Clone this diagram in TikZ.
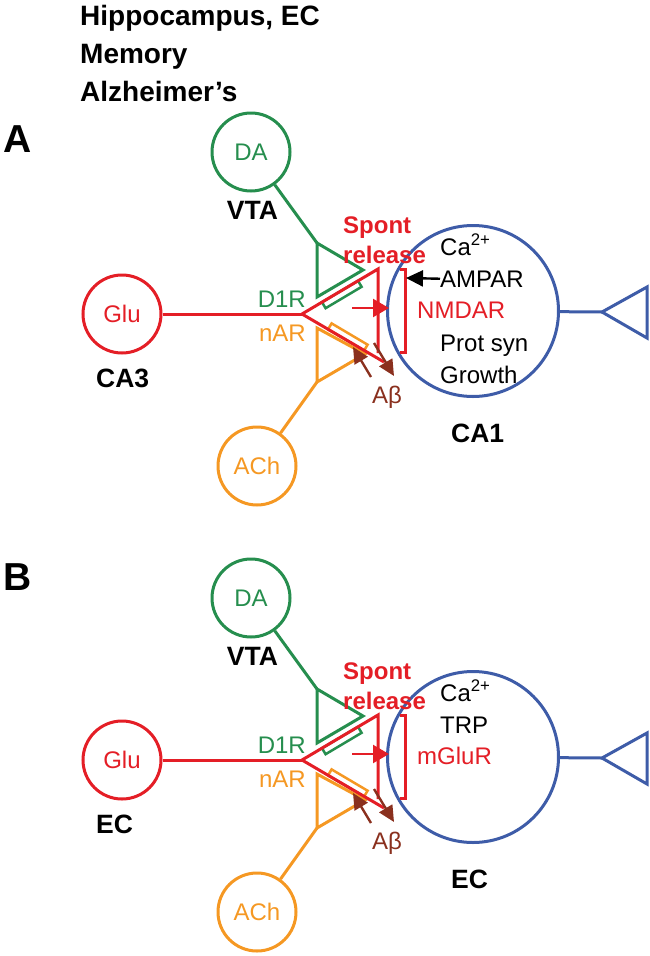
\documentclass[tikz,border=0pt]{standalone}
\usepackage{fontspec}
\setmainfont{Liberation Sans}
\usetikzlibrary{arrows.meta}
\definecolor{glured}{RGB}{228,30,38}
\definecolor{dagreen}{RGB}{38,142,78}
\definecolor{achorange}{RGB}{245,152,35}
\definecolor{cellblue}{RGB}{62,92,168}
\definecolor{abbrown}{RGB}{138,48,30}
\tikzset{cell/.style={circle,draw=#1,text=#1,line width=3pt,minimum size=78pt,inner sep=0pt,font=\fontsize{24}{28}\selectfont}}
\tikzset{lbl/.style={inner sep=0pt,text=#1,font=\fontsize{24}{28}\selectfont},lbl/.default=black}
\tikzset{bold/.style={inner sep=0pt,text=#1,font=\fontsize{26.5}{30}\selectfont\bfseries},bold/.default=black}
\tikzset{wire/.style={line width=3pt,#1}}
\tikzset{abarrow/.style={-{Triangle[length=16pt,width=15pt]},line width=2.4pt,abbrown}}

\begin{document}
\begin{tikzpicture}[x=1pt,y=-1pt]
	\useasboundingbox (0,0) rectangle (650,956);
	\node[bold,font=\fontsize{28}{32}\selectfont\bfseries,anchor=base west] (head1) at (80,25) {Hippocampus, EC};
	\node[bold,font=\fontsize{28}{32}\selectfont\bfseries,anchor=base west] (head2) at (80,63) {Memory};
	\node[bold,font=\fontsize{28}{32}\selectfont\bfseries,anchor=base west] (head3) at (80,101) {Alzheimer’s};
	\node[bold,font=\fontsize{39}{42}\selectfont\bfseries,anchor=base west] (panela) at (3,152) {A};
	\node[bold,font=\fontsize{39}{42}\selectfont\bfseries,anchor=base west] (panelb) at (3,590) {B};
	\foreach \p/\dy/\src/\dst/\rb/\rc in {a/0/CA3/CA1/AMPAR/NMDAR,b/446/EC/EC/TRP/mGluR}{
	\begin{scope}[shift={(0,\dy)}]
		\node[cell=dagreen] (da\p) at (251,152) {DA};
		\node[bold,anchor=base] (vta\p) at (252.5,219) {VTA};
		\node[cell=glured] (glu\p) at (122,314) {Glu};
		\node[bold,anchor=base west] (src\p) at (96,387) {\src};
		\node[cell=achorange] (ach\p) at (257,466) {ACh};
		\node[cell=cellblue,minimum size=171pt] (post\p) at (473,311) {};
		\node[bold,anchor=base west] (dst\p) at (451,442) {\dst};
		\coordinate (tip\p) at (302,314);
		\coordinate (rtop\p) at (378,269);
		\coordinate (rbot\p) at (378,353);
		\coordinate (rend\p) at (384,362);
		\coordinate (gtop\p) at (317,243);
		\coordinate (gbot\p) at (317,297);
		\coordinate (gtip\p) at (363,270);
		\coordinate (otop\p) at (317,328);
		\coordinate (obot\p) at (317,382);
		\coordinate (otip\p) at (365,354);
		\coordinate (btip\p) at (602,312);
		\coordinate (bup\p) at (647,287);
		\coordinate (bdn\p) at (647,338);
		\coordinate (rel\p) at (352,308);
		\coordinate (relt\p) at (389,308);
		\coordinate (abo\p) at (374,343);
		\coordinate (abot\p) at (394,376);
		\coordinate (abi\p) at (371,377);
		\coordinate (abit\p) at (353,347);
		\draw[wire=dagreen] (da\p) -- (gtop\p);
		\draw[wire=dagreen] (gtop\p) -- (gbot\p) -- (gtip\p) -- cycle;
		\draw[wire=achorange] (ach\p) -- (obot\p);
		\draw[wire=achorange] (otop\p) -- (obot\p) -- (otip\p) -- cycle;
		\draw[wire=dagreen,line width=2.5pt] (322,302.2) -- (358,280.8) -- (361.6,286.8) -- (325.6,308.2) -- cycle;
		\draw[wire=achorange,line width=2.5pt] (328,329.4) -- (364,350.7) -- (367.6,344.7) -- (331.6,323.4) -- cycle;
		\draw[wire=glured] (glu\p) -- (tip\p);
		\draw[wire=glured] (rend\p) -- (tip\p) -- (rtop\p) -- (rbot\p);
		\draw[wire=glured] (400,269) -- (405,269) -- (405,352) -- (400,352);
		\draw[wire=glured,line width=2.4pt,-{Triangle[length=16pt,width=18pt]}] (rel\p) -- (relt\p);
		\draw[abarrow] (abo\p) -- (abot\p);
		\draw[abarrow] (abi\p) -- (abit\p);
		\draw[wire=cellblue] (post\p) -- (btip\p);
		\draw[wire=cellblue] (btip\p) -- (bup\p) -- (bdn\p) -- cycle;
		\node[lbl=dagreen,anchor=base east] (d1r\p) at (306,307) {D1R};
		\node[lbl=achorange,anchor=base east] (nar\p) at (306,341) {nAR};
		\node[bold=glured,font=\fontsize{24}{28}\selectfont\bfseries,anchor=base west] (spont\p) at (343,233) {Spont};
		\node[bold=glured,font=\fontsize{24}{28}\selectfont\bfseries,anchor=base west] (rels\p) at (343,263) {release};
		\node[lbl,anchor=base west] (ca\p) at (440,255) {Ca\textsuperscript{2+}};
		\node[lbl,anchor=base west] (top\p) at (440,287) {\rb};
		\node[lbl=glured,anchor=base west] (red\p) at (417,318.5) {\rc};
		\node[lbl=abbrown,anchor=base west] (ab\p) at (372,403) {Aβ};
	\end{scope}
	}
	\node[lbl,anchor=base west] (prot) at (440,351) {Prot syn};
	\node[lbl,anchor=base west] (grow) at (440,383) {Growth};
	\coordinate (ampt) at (406,278);
	\draw[line width=2.4pt,-{Triangle[length=17pt,width=16pt]}] (topa.west) -- (ampt);
\end{tikzpicture}
\end{document}
